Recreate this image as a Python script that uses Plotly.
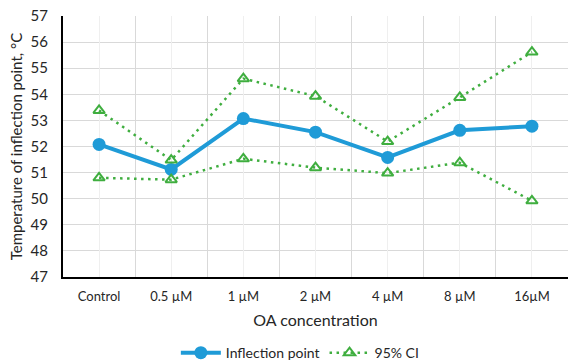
import plotly.graph_objects as go

categories = ["Control", "0.5 µM", "1 µM", "2 µM", "4 µM", "8 µM", "16µM"]
inflection = [52.08, 51.12, 53.07, 52.55, 51.58, 52.62, 52.78]
ci_upper = [53.38, 51.48, 54.6, 53.93, 52.19, 53.88, 55.62]
ci_lower = [50.8, 50.73, 51.53, 51.19, 50.98, 51.38, 49.92]
y_ticks = [47, 48, 49, 50, 51, 52, 53, 54, 55, 56, 57]

BLUE = "#1F9BD7"
GREEN = "#3FAE3F"
FONT = "Lato"
DOT = "2.5px,4.5px"

fig = go.Figure()
fig.add_trace(go.Scatter(
    x=categories, y=inflection, name="Inflection point", mode="lines+markers",
    line=dict(color=BLUE, width=4), marker=dict(color=BLUE, size=13, symbol="circle"),
))
fig.add_trace(go.Scatter(
    x=categories, y=ci_upper, name="95% CI", mode="lines+markers",
    line=dict(color=GREEN, width=2.5, dash=DOT),
    marker=dict(color=GREEN, size=10, symbol="triangle-up-open", line=dict(color=GREEN, width=2)),
))
fig.add_trace(go.Scatter(
    x=categories, y=ci_lower, name="95% CI", mode="lines+markers", showlegend=False,
    line=dict(color=GREEN, width=2.5, dash=DOT),
    marker=dict(color=GREEN, size=10, symbol="triangle-up-open", line=dict(color=GREEN, width=2)),
))
# invisible trace for the center gridlines axis
fig.add_trace(go.Scatter(x=categories, y=inflection, xaxis="x2", mode="none",
                         showlegend=False, hoverinfo="skip"))

fig.update_layout(
    width=570, height=360,
    margin=dict(l=63, r=2, t=16, b=83, autoexpand=False),
    paper_bgcolor="white", plot_bgcolor="white",
    font=dict(family=FONT, color="#262626"),
    xaxis=dict(
        type="category", categoryorder="array", categoryarray=categories,
        range=[-0.5, 6.5], tickson="boundaries", automargin=False,
        showgrid=True, gridcolor="#D9D9D9", gridwidth=1.3,
        showline=True, linecolor="#000000", linewidth=2,
        ticks="outside", ticklen=17, tickcolor="rgba(0,0,0,0)", ticklabelstandoff=6,
        tickfont=dict(size=13, family=FONT, color="#262626"),
        title=dict(text="OA concentration", font=dict(size=16, family=FONT, color="#262626"), standoff=12),
        zeroline=False,
    ),
    xaxis2=dict(
        type="category", categoryorder="array", categoryarray=categories,
        range=[-0.5, 6.5], overlaying="x", showgrid=True, gridcolor="#EFEFEF",
        showticklabels=False, showline=False, zeroline=False, automargin=False,
    ),
    yaxis=dict(
        range=[47, 57], tickvals=y_ticks, automargin=False,
        showgrid=True, gridcolor="#D9D9D9", gridwidth=1.3,
        showline=True, linecolor="#000000", linewidth=2,
        ticks="outside", ticklen=10, tickcolor="rgba(0,0,0,0)",
        tickfont=dict(size=15, family=FONT, color="#262626"),
        title=dict(text="Temperature of inflection point, °C",
                   font=dict(size=15, family=FONT, color="#262626"), standoff=4),
        zeroline=False,
    ),
    legend=dict(orientation="h", x=0.47, xanchor="center", y=-0.23, yanchor="top",
                font=dict(size=14, family=FONT, color="#262626"), itemwidth=40),
    showlegend=True,
)

fig.write_html("out.html", config={"displayModeBar": False},
               post_script="document.body.style.margin='0';document.body.style.padding='0';document.body.style.overflow='hidden';")
